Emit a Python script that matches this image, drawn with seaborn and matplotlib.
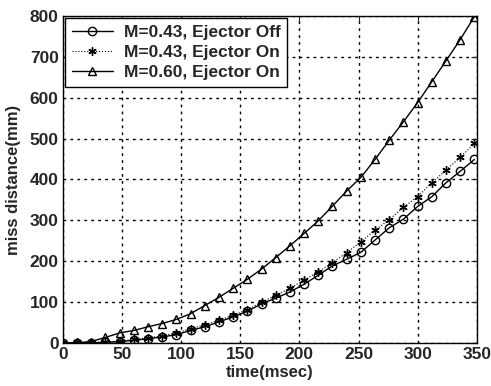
import numpy as np
import pandas as pd
import matplotlib
matplotlib.use("Agg")
import matplotlib.pyplot as plt
import seaborn as sns

# time samples (msec)
time_ms = list(range(0, 349, 12))

# miss distance (mm)
m043_off = [0, 1, 1, 2, 4, 7, 11, 15, 21, 31, 40, 52, 64, 78, 96,
            110, 125, 144, 166, 189, 205, 222, 252, 282, 303, 334, 358, 392, 420, 449]
m043_on = [0, 2, 1, 3, 5, 9, 13, 18, 25, 35, 45, 56, 68, 82, 100,
           117, 134, 154, 174, 197, 221, 248, 276, 302, 332, 358, 392, 423, 454, 488]
m060_on = [0, 1, 4, 14, 25, 31, 40, 48, 58, 72, 92, 112, 134, 156, 181,
           209, 238, 268, 299, 335, 372, 405, 449, 496, 541, 588, 639, 690, 742, 798]

labels = ["M=0.43, Ejector Off", "M=0.43, Ejector On", "M=0.60, Ejector On"]

sns.set_style("white")
plt.rcParams['font.family'] = ['Liberation Sans', 'DejaVu Sans']

fig = plt.figure(figsize=(4.91, 3.86), dpi=100)
ax = fig.add_axes([0.128, 0.111, 0.843, 0.848])

sns.lineplot(x=time_ms, y=m043_off, ax=ax, color='k', linewidth=1.0,
             marker='o', markersize=6, markerfacecolor='none',
             markeredgecolor='k', markeredgewidth=1.0, label=labels[0])
sns.lineplot(x=time_ms, y=m043_on, ax=ax, color='k', linewidth=0.8,
             linestyle=':', marker=(6, 2, 0), markersize=6,
             markeredgecolor='k', markeredgewidth=1.0, label=labels[1])
sns.lineplot(x=time_ms, y=m060_on, ax=ax, color='k', linewidth=1.0,
             marker='^', markersize=6, markerfacecolor='none',
             markeredgecolor='k', markeredgewidth=1.0, label=labels[2])

ax.set_xlim(0, 350)
ax.set_ylim(0, 800)
ax.set_xticks(range(0, 351, 50))
ax.set_yticks(range(0, 801, 100))
ax.grid(True, linestyle=(0, (2, 3)), color='k', linewidth=1.0)
ax.tick_params(direction='in', top=True, right=True, length=4,
               labelsize=12.5, width=0.8, pad=3)
for lbl in ax.get_xticklabels() + ax.get_yticklabels():
    lbl.set_fontweight('bold')
for sp in ax.spines.values():
    sp.set_color('k')
    sp.set_linewidth(1.0)

ax.set_xlabel('time(msec)', fontsize=12, fontweight='bold', labelpad=2)
ax.set_ylabel('miss distance(mm)', fontsize=12, fontweight='bold', labelpad=6)

leg = ax.legend(loc='upper left', frameon=True, fancybox=False,
                edgecolor='k', framealpha=1, borderaxespad=0.1,
                prop={'size': 12.5, 'weight': 'bold'}, handlelength=2.4,
                handletextpad=0.6, labelspacing=0.3, borderpad=0.4)
leg.get_frame().set_linewidth(1.0)

fig.savefig('out.png', dpi=100, facecolor='white')
